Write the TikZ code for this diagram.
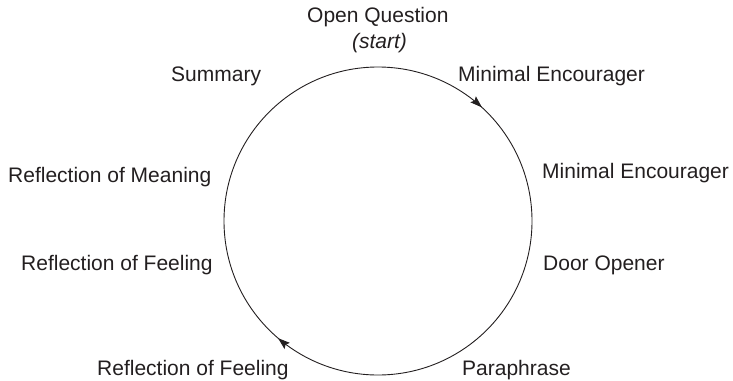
\documentclass[tikz,border=0pt]{standalone}
\usepackage{fontspec}
\setmainfont{Liberation Sans}
\usetikzlibrary{arrows.meta,decorations.markings}
\definecolor{ink}{HTML}{231F20}
\begin{document}
\begin{tikzpicture}[x=1pt,y=-1pt,
  lbl/.style={anchor=base west,inner sep=0pt,text=ink,font=\fontsize{21}{25}\selectfont},
  tip/.style={Stealth[length=12pt,width=8pt,inset=2pt]},
  cyc/.style={line width=0.9pt,draw=ink,
    postaction={decorate},
    decoration={markings,
      mark=at position 0.118 with {\arrow[ink]{Stealth[length=12pt,width=8pt,inset=2pt]}},
      mark=at position 0.6125 with {\arrow[ink]{Stealth[length=12pt,width=8pt,inset=2pt]}}}}]
\useasboundingbox (0,0) rectangle (733,380);
\coordinate (c) at (378,221);
\draw[cyc] ([shift={(0,-154)}]c) arc[start angle=270,end angle=630,radius=154];
\node[lbl] (oq) at (307,23) {Open Question};
\node[inner sep=0pt,anchor=base,text=ink,font=\fontsize{21}{25}\selectfont\itshape] (st) at (379.5,48) {(start)};
\node[lbl] (sum) at (171,81) {Summary};
\node[lbl] (me1) at (458,81) {Minimal Encourager};
\node[lbl] (rm) at (8,182) {Reflection of Meaning};
\node[lbl] (me2) at (542,178) {Minimal Encourager};
\node[lbl] (rf1) at (21,270) {Reflection of Feeling};
\node[lbl] (do) at (543,270) {Door Opener};
\node[lbl] (rf2) at (97,375) {Reflection of Feeling};
\node[lbl] (pp) at (462,375) {Paraphrase};
\end{tikzpicture}
\end{document}
